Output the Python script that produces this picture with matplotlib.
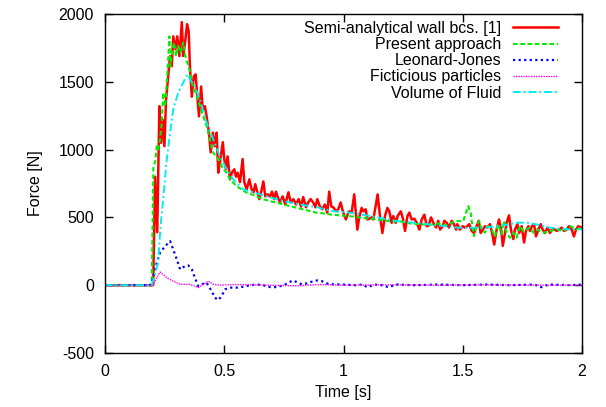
import matplotlib
matplotlib.use("Agg")
import matplotlib.pyplot as plt

plt.rcParams['font.family'] = ['Liberation Sans', 'DejaVu Sans']
plt.rcParams['axes.unicode_minus'] = False

# Semi-analytical wall bcs. [1]
t_semi = [0.0, 0.200, 0.202, 0.210, 0.219, 0.228, 0.235, 0.242, 0.249, 0.256, 0.265, 0.273, 0.280, 0.286,
          0.295, 0.303, 0.312, 0.322, 0.328, 0.337, 0.344, 0.351, 0.356, 0.364, 0.372, 0.380, 0.387,
          0.394, 0.403, 0.410, 0.419, 0.426, 0.436, 0.443, 0.452, 0.460, 0.468, 0.475, 0.482, 0.494,
          0.500, 0.507, 0.514, 0.524, 0.532, 0.542, 0.549, 0.556, 0.566, 0.577, 0.584, 0.594, 0.605,
          0.615, 0.623, 0.630, 0.639, 0.647, 0.657, 0.664, 0.672, 0.682, 0.692, 0.700, 0.709, 0.717,
          0.724, 0.734, 0.745, 0.756, 0.769, 0.779, 0.790, 0.801, 0.812, 0.822, 0.831, 0.843, 0.852,
          0.862, 0.873, 0.882, 0.890, 0.901, 0.911, 0.922, 0.932, 0.940, 0.949, 0.957, 0.969, 0.978,
          0.988, 0.999, 1.010, 1.020, 1.024, 1.034, 1.045, 1.058, 1.066, 1.076, 1.083, 1.093, 1.100,
          1.108, 1.118, 1.125, 1.135, 1.143, 1.153, 1.163, 1.174, 1.184, 1.192, 1.202, 1.209, 1.219,
          1.227, 1.240, 1.248, 1.258, 1.268, 1.276, 1.286, 1.297, 1.307, 1.318, 1.328, 1.339, 1.349,
          1.357, 1.367, 1.377, 1.388, 1.397, 1.405, 1.416, 1.423, 1.433, 1.442, 1.454, 1.463, 1.472,
          1.477, 1.488, 1.500, 1.509, 1.519, 1.527, 1.538, 1.547, 1.558, 1.567, 1.575, 1.584, 1.593,
          1.603, 1.614, 1.623, 1.632, 1.642, 1.652, 1.660, 1.668, 1.677, 1.684, 1.694, 1.702, 1.712,
          1.719, 1.729, 1.737, 1.747, 1.757, 1.765, 1.775, 1.782, 1.790, 1.799, 1.807, 1.817, 1.827,
          1.835, 1.845, 1.855, 1.866, 1.873, 1.883, 1.894, 1.905, 1.915, 1.925, 1.936, 1.945, 1.957,
          1.966, 1.975, 1.984, 2.000]
f_semi = [0, 0, 0, 800, 390, 1320, 1050, 1220, 1025, 1370, 1540, 1690, 1615, 1835,
          1740, 1835, 1690, 1940, 1690, 1810, 1925, 1870, 1615, 1390, 1540, 1555, 1390,
          1245, 1465, 1295, 1320, 1245, 1125, 980, 1125, 1025, 1125, 830, 905, 1055,
          930, 855, 950, 780, 830, 855, 800, 830, 760, 930, 760, 705, 780,
          705, 685, 745, 685, 635, 705, 765, 655, 670, 655, 690, 635, 690,
          650, 610, 655, 595, 685, 610, 635, 595, 635, 580, 650, 575, 610,
          635, 610, 575, 635, 580, 560, 595, 535, 690, 580, 575, 545, 560,
          610, 535, 485, 535, 545, 535, 670, 410, 500, 570, 545, 560, 485,
          490, 500, 485, 585, 670, 510, 385, 510, 570, 545, 460, 510, 460,
          510, 545, 500, 400, 510, 535, 485, 490, 460, 410, 485, 520, 435,
          440, 500, 460, 425, 475, 410, 435, 475, 460, 425, 475, 450, 410,
          450, 410, 435, 425, 435, 450, 400, 385, 435, 475, 385, 410, 435,
          425, 450, 385, 300, 410, 485, 425, 290, 385, 460, 515, 410, 340,
          410, 450, 385, 435, 315, 400, 435, 400, 435, 450, 360, 410, 450,
          410, 385, 425, 385, 410, 415, 400, 410, 425, 400, 410, 435, 410,
          360, 410, 435, 425]

# Present approach
t_pres = [0.0, 0.196, 0.203, 0.210, 0.217, 0.223, 0.231, 0.238, 0.244, 0.252, 0.259, 0.265, 0.270,
          0.274, 0.281, 0.289, 0.298, 0.307, 0.317, 0.328, 0.337, 0.345, 0.354, 0.364, 0.373, 0.385,
          0.398, 0.412, 0.426, 0.440, 0.454, 0.468, 0.482, 0.496, 0.510, 0.524, 0.538, 0.552, 0.573,
          0.594, 0.615, 0.636, 0.664, 0.692, 0.720, 0.748, 0.776, 0.804, 0.831, 0.860, 0.888, 0.915,
          0.943, 0.985, 1.020, 1.050, 1.080, 1.120, 1.160, 1.200, 1.240, 1.280, 1.320, 1.360, 1.400,
          1.430, 1.454, 1.468, 1.488, 1.502, 1.514, 1.523, 1.533, 1.542, 1.547, 1.558, 1.569, 1.579,
          1.593, 1.607, 1.621, 1.635, 1.649, 1.663, 1.673, 1.684, 1.698, 1.712, 1.726, 1.740, 1.754,
          1.768, 1.782, 1.796, 1.810, 1.838, 1.866, 1.894, 1.922, 1.950, 1.978, 2.000]
f_pres = [0, 0, 880, 905, 1025, 1000, 1075, 1200, 1420, 1320, 1495, 1665, 1835,
          1615, 1715, 1790, 1690, 1765, 1715, 1790, 1690, 1640, 1590, 1495, 1445, 1395,
          1320, 1245, 1175, 1075, 975, 950, 905, 855, 830, 780, 755, 730, 705,
          682, 670, 655, 633, 620, 608, 596, 583, 571, 559, 546, 534, 530,
          522, 515, 510, 505, 495, 490, 480, 470, 470, 455, 450, 445, 455,
          440, 461, 473, 473, 473, 535, 583, 535, 412, 362, 436, 473, 412,
          387, 436, 412, 362, 448, 375, 473, 387, 350, 387, 350, 436, 399,
          412, 424, 387, 412, 387, 399, 412, 399, 436, 412, 424]

# Leonard-Jones
t_lj = [0.0, 0.190, 0.203, 0.217, 0.231, 0.252, 0.273, 0.286, 0.301, 0.315, 0.335, 0.349, 0.364,
        0.377, 0.391, 0.405, 0.426, 0.447, 0.461, 0.475, 0.489, 0.503, 0.524, 0.552, 0.580, 0.608,
        0.636, 0.664, 0.692, 0.720, 0.748, 0.769, 0.787, 0.804, 0.825, 0.846, 0.867, 0.888, 0.909,
        0.930, 0.957, 0.985, 1.050, 1.080, 1.100, 1.130, 1.160, 1.190, 1.220, 1.300, 1.400, 1.500,
        1.600, 1.700, 1.800, 1.830, 1.860, 1.950, 2.000]
f_lj = [0, 0, 55, 166, 240, 288, 325, 264, 190, 117, 141, 146, 117,
        55, -7, 6, 18, -44, -92, -110, -80, -31, -18, -18, -11, -1,
        6, -1, -14, -14, -1, 18, 35, 23, 6, 13, 26, 35, 30,
        13, 6, 6, 0, 5, -15, 5, 0, -15, 5, 0, 5, 0,
        5, 0, 5, -15, 5, 0, 5]

# Ficticious particles
t_fict = [0.0, 0.200, 0.231, 0.259, 0.286, 0.315, 0.356, 0.391, 0.412, 0.433, 0.454, 0.482, 0.550,
          0.700, 0.800, 0.900, 1.000, 1.200, 1.400, 1.600, 1.800, 2.000]
f_fict = [0, 0, 97, 55, 30, 6, 6, -18, 6, 30, 6, 0, 5,
          0, -5, 5, 0, 3, 0, 3, 0, 0]

# Volume of Fluid
t_vof = [0.0, 0.196, 0.223, 0.231, 0.238, 0.244, 0.259, 0.273, 0.286, 0.307, 0.328, 0.345, 0.356,
         0.377, 0.398, 0.426, 0.454, 0.482, 0.510, 0.538, 0.580, 0.622, 0.678, 0.748, 0.818, 0.888,
         0.957, 1.027, 1.111, 1.223, 1.363, 1.481, 1.586, 1.656, 1.726, 1.768, 1.810, 1.866, 1.936,
         2.000]
f_vof = [0, 0, 170, 390, 535, 635, 930, 1125, 1295, 1420, 1495, 1555, 1520,
         1465, 1370, 1200, 1075, 950, 855, 780, 705, 685, 655, 620, 595, 575,
         545, 535, 510, 473, 448, 424, 424, 436, 461, 461, 448, 424, 412,
         412]

labels = ["Semi-analytical wall bcs. [1]", "Present approach", "Leonard-Jones",
          "Ficticious particles", "Volume of Fluid"]
x_ticks = [0, 0.5, 1, 1.5, 2]
x_ticklabels = ["0", "0.5", "1", "1.5", "2"]
y_ticks = [-500, 0, 500, 1000, 1500, 2000]

fig = plt.figure(figsize=(6.06, 4.07), dpi=100)
ax = fig.add_axes([105 / 606, 1 - 353 / 407, 477 / 606, 339 / 407])

ax.plot(t_semi, f_semi, color='#ff0000', lw=1.8, ls='-', label=labels[0])
ax.plot(t_pres, f_pres, color='#00ee00', lw=1.5, ls=(0, (2.2, 1.3)), label=labels[1])
ax.plot(t_lj, f_lj, color='#0000ff', lw=1.6, ls=(0, (1, 1.5)), label=labels[2])
ax.plot(t_fict, f_fict, color='#ff00ff', lw=1.0, ls=(0, (1, 0.8)), label=labels[3])
ax.plot(t_vof, f_vof, color='#00eeee', lw=1.4, ls=(0, (4, 1.5, 1, 1.5)), label=labels[4])

ax.set_xlim(0, 2)
ax.set_ylim(-500, 2000)
ax.set_xticks(x_ticks)
ax.set_xticklabels(x_ticklabels)
ax.set_yticks(y_ticks)
ax.tick_params(direction='in', length=6, width=1, top=True, right=True,
               labelsize=11.5, pad=8)
for s in ax.spines.values():
    s.set_linewidth(1.0)

ax.set_xlabel("Time [s]", fontsize=11.5, labelpad=4)
ax.set_ylabel("Force [N]", fontsize=11.5, labelpad=11)

leg = ax.legend(loc='upper right', bbox_to_anchor=(0.964, 0.998), frameon=False,
                markerfirst=False, fontsize=11.5, handlelength=2.85, handletextpad=0.75,
                labelspacing=0.07, borderaxespad=0.0)
for txt in leg.get_texts():
    txt.set_ha('right')
leg._legend_box.align = "right"

fig.savefig("out.png", dpi=100)
